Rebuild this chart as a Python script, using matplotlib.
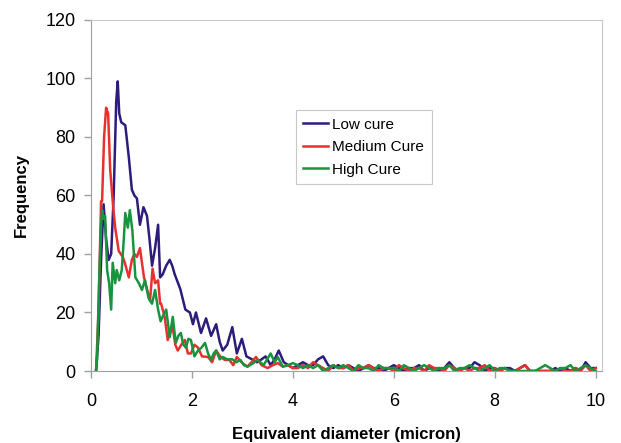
import numpy as np
import matplotlib
matplotlib.use("Agg")
from matplotlib import pyplot as plt

plt.rcParams['font.family'] = ['Liberation Sans', 'DejaVu Sans']

low_x = [0.10, 0.15, 0.20, 0.25, 0.30, 0.35, 0.40, 0.45, 0.50, 0.53, 0.56, 0.60, 0.68, 0.75,
         0.81, 0.86, 0.91, 0.97, 1.04, 1.11, 1.16, 1.21, 1.27, 1.33, 1.37, 1.42, 1.49, 1.56,
         1.61, 1.66, 1.77, 1.87, 1.96, 2.02, 2.08, 2.18, 2.28, 2.38, 2.48, 2.55, 2.61, 2.70,
         2.80, 2.89, 2.99, 3.08, 3.19, 3.29, 3.38, 3.46, 3.56, 3.64, 3.72, 3.82, 3.91, 4.00]
low_y = [0, 12, 38, 57, 45, 38, 40, 60, 92, 99, 88, 85, 84, 73,
         62, 60, 59, 50, 56, 53, 45, 36, 42, 50, 32, 33, 36, 38,
         36, 33, 28, 21, 20, 16, 20, 13, 18, 12, 16, 10, 7, 9,
         15, 6, 11, 5, 4, 3, 4, 5, 2, 4, 7, 3, 2, 1]

med_x = [0.10, 0.15, 0.20, 0.22, 0.26, 0.30, 0.34, 0.38, 0.44, 0.48, 0.55, 0.63, 0.67, 0.75,
         0.81, 0.86, 0.91, 0.97, 1.05, 1.11, 1.17, 1.22, 1.27, 1.33, 1.37, 1.39, 1.46, 1.52,
         1.57, 1.62, 1.67, 1.72, 1.79, 1.86, 1.92, 1.98, 2.05, 2.12, 2.20, 2.32, 2.40, 2.48,
         2.56, 2.65, 2.74, 2.82, 2.89, 3.00, 3.10, 3.18, 3.27, 3.38, 3.50, 3.60, 3.70, 3.80,
         3.90, 4.00]
med_y = [0, 20, 58, 58, 80, 90, 88, 69, 56, 49, 41, 39, 37, 32,
         38, 40, 39, 42, 32, 28, 24, 35, 30, 31, 23, 23, 18.5, 10.6,
         13, 15, 9, 7, 9, 10.6, 6, 6, 9, 8, 5, 4.8, 3, 7,
         5, 3.8, 3.8, 2, 4.8, 2.7, 1.5, 3, 4.8, 2, 1, 2, 2.7, 1.5,
         2, 1]

high_x = [0.10, 0.12, 0.16, 0.20, 0.22, 0.25, 0.28, 0.32, 0.36, 0.40, 0.43, 0.48, 0.51, 0.56,
          0.61, 0.65, 0.68, 0.73, 0.77, 0.82, 0.88, 0.95, 1.01, 1.07, 1.14, 1.21, 1.27, 1.33,
          1.38, 1.43, 1.49, 1.56, 1.62, 1.68, 1.73, 1.78, 1.83, 1.88, 1.93, 1.98, 2.05, 2.12,
          2.19, 2.26, 2.32, 2.38, 2.43, 2.48, 2.55, 2.61, 2.70, 2.80, 2.88, 2.96, 3.03, 3.10,
          3.20, 3.30, 3.42, 3.56, 3.64, 3.70, 3.80, 3.90, 4.00]
high_y = [0, 4, 30, 50, 55, 52, 53, 34.5, 30, 21, 37, 30, 34.5, 31,
          34.5, 45, 54, 49, 55, 48, 32, 30, 27.7, 31, 25, 23, 27.7, 21,
          17, 19, 21, 11.6, 18.5, 9.6, 12, 13, 9, 8, 11, 10.6, 5, 7,
          8, 9.6, 6, 3.8, 6, 7, 4, 4.8, 4, 4, 3, 3.8, 2, 1.5,
          2.5, 3.8, 2, 6, 3, 4.8, 1.5, 2, 2.7]

# tails 4.1 .. 10.0 in steps of 0.1
tail_x = [round(4.1 + 0.1 * i, 1) for i in range(60)]
low_tail = [2, 3, 2, 2, 4, 5, 2, 1, 2, 1, 2, 1, 0, 1, 2, 1, 1, 0, 1, 2,
            1, 0, 1, 1, 2, 0, 1, 1, 0, 1, 3, 1, 0, 1, 1, 3, 2, 0, 1, 1,
            0, 1, 1, 0, 1, 2, 0, 0, 0, 0, 0, 1, 0, 1, 0, 1, 0, 3, 1, 1]
med_tail = [1, 2, 1, 3, 2, 1, 0, 2, 1, 1, 2, 0, 1, 1, 2, 1, 0, 1, 1, 0,
            2, 1, 0, 1, 1, 0, 2, 1, 1, 0, 2, 1, 0, 1, 0, 1, 1, 2, 0, 1,
            0, 1, 0, 0, 1, 2, 0, 0, 0, 0, 0, 0, 1, 0, 0, 1, 0, 2, 0, 1]
high_tail = [2, 1, 2, 1, 2, 0, 1, 2, 1, 2, 1, 0, 2, 1, 1, 0, 2, 1, 1, 1,
             0, 2, 1, 0, 1, 2, 1, 0, 1, 1, 2, 0, 1, 1, 2, 1, 0, 1, 2, 0,
             1, 1, 0, 0, 0, 0, 0, 0, 1, 2, 1, 0, 1, 1, 2, 0, 1, 2, 1, 0]

labels = ['Low cure', 'Medium Cure', 'High Cure']
colors = ['#2e1c7c', '#e8302e', '#17943d']


def main():
    fig = plt.figure(figsize=(6.21, 4.43), dpi=100)
    ax = fig.add_axes([0.1465, 0.1625, 0.8225, 0.7925])

    series = [(low_x + tail_x, low_y + low_tail),
              (med_x + tail_x, med_y + med_tail),
              (high_x + tail_x, high_y + high_tail)]
    for (xs, ys), lab, c in zip(series, labels, colors):
        ax.plot(xs, ys, color=c, lw=1.8, label=lab, solid_joinstyle='round')

    ax.set_xlim(0, 10.12)
    ax.set_ylim(0, 120)
    ax.set_xticks([0, 2, 4, 6, 8, 10])
    ax.set_yticks([0, 20, 40, 60, 80, 100, 120])
    ax.tick_params(labelsize=13, colors='#a0a0a0', labelcolor='black', length=5, width=1)
    ax.tick_params(axis='x', pad=11)
    ax.tick_params(axis='y', pad=6)
    for s in ['left', 'bottom']:
        ax.spines[s].set_color('#a0a0a0')
    for s in ['top', 'right']:
        ax.spines[s].set_color('#c8c8c8')

    ax.set_xlabel('Equivalent diameter (micron)', fontsize=12, fontweight='bold', labelpad=12)
    ax.set_ylabel('Frequency', fontsize=12, fontweight='bold', labelpad=12)

    leg = ax.legend(loc='upper left', bbox_to_anchor=(0.386, 0.765), fontsize=11,
                    fancybox=False, framealpha=1, edgecolor='#c8c8c8',
                    handlelength=1.6, handletextpad=0.3, borderpad=0.5, labelspacing=0.55)
    leg.get_frame().set_linewidth(0.8)

    fig.savefig('out.png', dpi=100)


if __name__ == '__main__':
    main()
